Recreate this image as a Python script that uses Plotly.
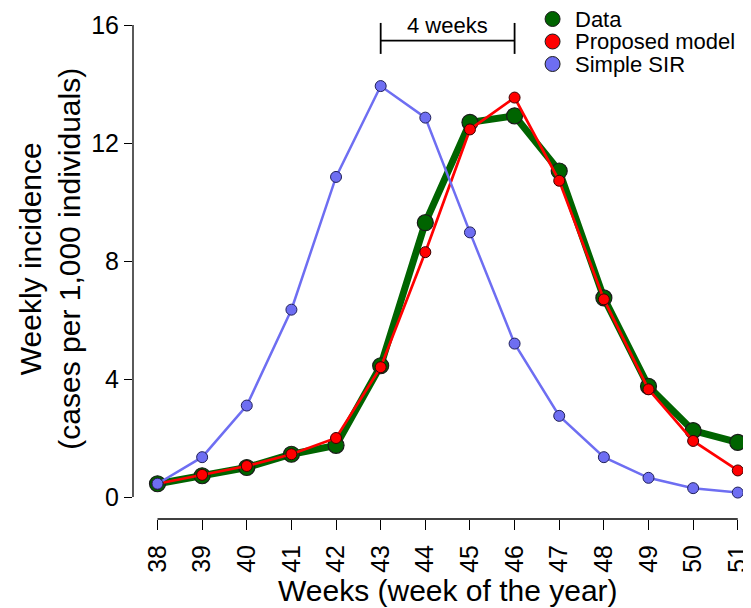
import plotly.graph_objects as go

weeks = list(range(38, 52))
data_obs = [0.45, 0.72, 1.0, 1.45, 1.75, 4.45, 9.3, 12.7, 12.92, 11.05, 6.75, 3.75, 2.25, 1.85]
proposed = [0.45, 0.75, 1.05, 1.45, 2.0, 4.4, 8.3, 12.46, 13.54, 10.72, 6.7, 3.65, 1.9, 0.9]
simple_sir = [0.45, 1.35, 3.1, 6.35, 10.85, 13.93, 12.86, 8.97, 5.2, 2.75, 1.35, 0.65, 0.3, 0.15]
y_ticks = [0, 4, 8, 12, 16]
series_names = ["Data", "Proposed model", "Simple SIR"]
bracket_weeks = (43, 46)
bracket_label = "4 weeks"

GREEN = "#006400"
RED = "#FF0000"
BLUE = "#6E6EF2"
FONT = "Liberation Sans, Arial, Helvetica, sans-serif"

# the page body adds an 8px offset; lay out in page pixels minus that offset
OFF = 8
W, H = 751 - OFF, 608 - OFF
ML, MR, MT, MB = 133 - OFF, 0, 0, 608 - 519
PW, PH = W - ML - MR, H - MT - MB


def px(xp):
    return (xp - OFF - ML) / PW


def py(yp):
    return (MT + PH - (yp - OFF)) / PH


fig = go.Figure()
fig.add_trace(go.Scatter(x=weeks, y=data_obs, mode="lines+markers", name=series_names[0],
                         line=dict(color=GREEN, width=7),
                         marker=dict(size=16, color=GREEN, line=dict(color="#1a1a1a", width=1.2)),
                         cliponaxis=False))
fig.add_trace(go.Scatter(x=weeks, y=proposed, mode="lines+markers", name=series_names[1],
                         line=dict(color=RED, width=2.7),
                         marker=dict(size=11, color=RED, line=dict(color="#3a0000", width=1)),
                         cliponaxis=False))
fig.add_trace(go.Scatter(x=weeks, y=simple_sir, mode="lines+markers", name=series_names[2],
                         line=dict(color=BLUE, width=2.5),
                         marker=dict(size=11, color=BLUE, line=dict(color="#20205a", width=1)),
                         cliponaxis=False))

shapes = [
    dict(type="line", xref="paper", yref="y", x0=0, x1=0, y0=y_ticks[0], y1=y_ticks[-1],
         line=dict(color="black", width=1.3)),
    dict(type="line", xref="x", yref="paper", x0=weeks[0], x1=weeks[-1], y0=0, y1=0,
         line=dict(color="black", width=1.3)),
    dict(type="line", xref="x", yref="y", x0=bracket_weeks[0], x1=bracket_weeks[1], y0=15.47, y1=15.47,
         line=dict(color="black", width=1.8)),
    dict(type="line", xref="x", yref="y", x0=bracket_weeks[0], x1=bracket_weeks[0], y0=15.02, y1=16.07,
         line=dict(color="black", width=1.8)),
    dict(type="line", xref="x", yref="y", x0=bracket_weeks[1], x1=bracket_weeks[1], y0=15.02, y1=16.07,
         line=dict(color="black", width=1.8)),
]

annotations = [
    dict(text=bracket_label, xref="x", yref="y", x=sum(bracket_weeks) / 2, y=16.0,
         showarrow=False, font=dict(size=22, color="black", family=FONT), yanchor="middle"),
    dict(text="Weeks (week of the year)", xref="paper", yref="paper",
         x=px(451), y=py(590), xanchor="center", yanchor="middle",
         showarrow=False, font=dict(size=30, color="black", family=FONT)),
    dict(text="Weekly incidence<br>(cases per 1,000 individuals)", xref="paper", yref="paper",
         x=px(49), y=py(259), xanchor="center", yanchor="middle",
         textangle=-90, showarrow=False, font=dict(size=30, color="black", family=FONT)),
]

legend_colors = [GREEN, RED, BLUE]
legend_rows_px = [19, 41.5, 64]
for name, col, ypx in zip(series_names, legend_colors, legend_rows_px):
    yy = py(ypx)
    shapes.append(dict(type="circle", xref="paper", yref="paper",
                       xsizemode="pixel", ysizemode="pixel", xanchor=px(556), yanchor=yy,
                       x0=-7.5, x1=7.5, y0=-7.5, y1=7.5,
                       fillcolor=col, line=dict(color="#1a1a1a", width=1)))
    annotations.append(dict(text=name, xref="paper", yref="paper", x=px(577), y=yy,
                            xanchor="left", yanchor="middle", showarrow=False,
                            font=dict(size=22, color="black", family=FONT)))

# axis ranges from reference pixel positions (week 38 at 157.7, 45 px/week; y=0 at 497, 29.5 px/unit)
x_lo = weeks[0] - (157.7 - (ML + OFF)) / 45.0
x_hi = weeks[-1] + (751 - 742.7) / 45.0
y_lo = -(519 - 497) / 29.5
y_hi = 16 + (25 - (MT + OFF)) / 29.5

fig.update_layout(
    width=W, height=H,
    margin=dict(l=ML, r=MR, t=MT, b=MB),
    plot_bgcolor="white", paper_bgcolor="white",
    showlegend=False,
    font=dict(family=FONT, color="black"),
    shapes=shapes, annotations=annotations,
    xaxis=dict(range=[x_lo, x_hi], tickvals=weeks, ticktext=[str(w) for w in weeks],
               tickangle=-90, ticks="outside", ticklen=10, tickwidth=1.3, tickcolor="black",
               ticklabelstandoff=5, ticklabeloverflow="allow",
               showline=False, showgrid=False, zeroline=False,
               tickfont=dict(size=25, color="black", family=FONT)),
    yaxis=dict(range=[y_lo, y_hi], tickvals=y_ticks, ticks="outside", ticklen=8,
               tickwidth=1.3, tickcolor="black",
               showline=False, showgrid=False, zeroline=False,
               tickfont=dict(size=25, color="black", family=FONT)),
)

fig.write_html("out.html")
